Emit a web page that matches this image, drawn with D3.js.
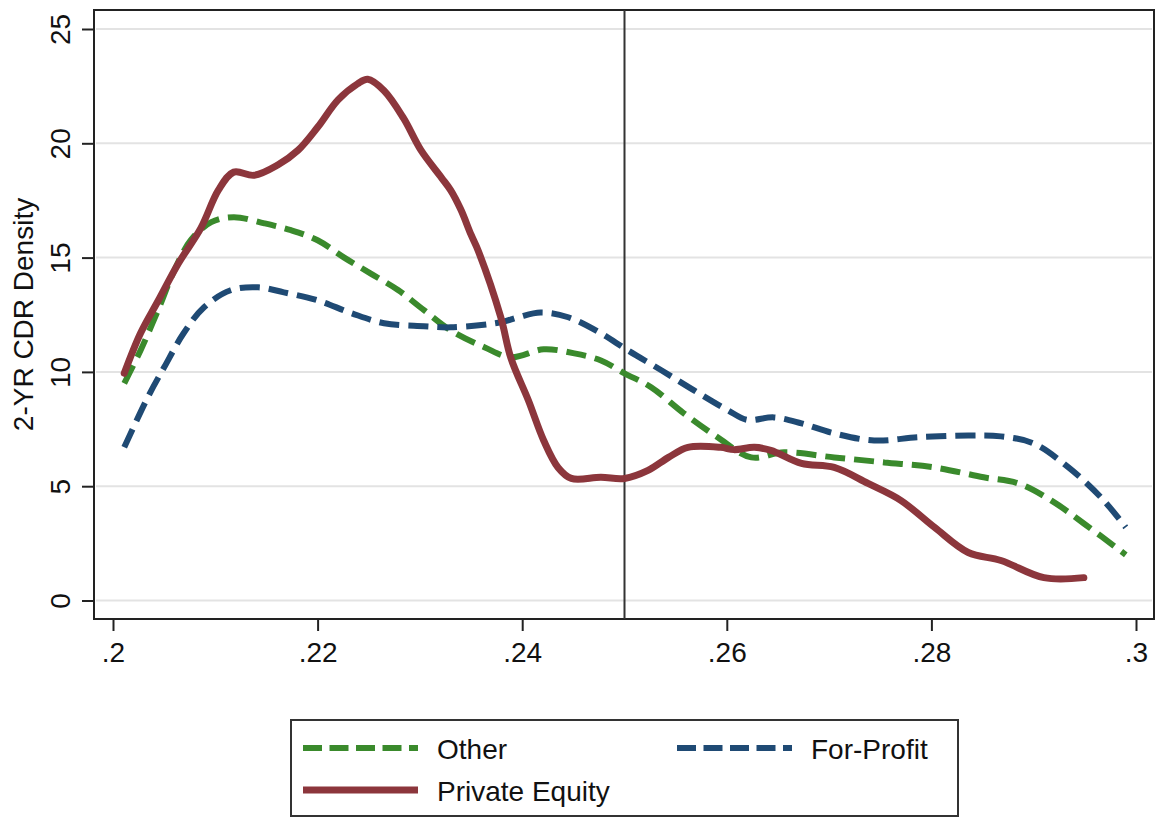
<!DOCTYPE html>
<html>
<head>
<meta charset="utf-8">
<script src="https://cdn.jsdelivr.net/npm/d3@7"></script>
<style>
  html, body { margin: 0; padding: 0; background: #fff; }
  svg { display: block; font-family: "Liberation Sans", Arial, Helvetica, sans-serif; }
</style>
</head>
<body>
<svg id="chart" width="1156" height="817"></svg>
<script>
// ---- Data ----
const xTicks = [0.2, 0.22, 0.24, 0.26, 0.28, 0.3];
const xTickLabels = [".2", ".22", ".24", ".26", ".28", ".3"];
const yTicks = [0, 5, 10, 15, 20, 25];
const yTickLabels = ["0", "5", "10", "15", "20", "25"];
const refLineX = 0.25;
const yTitle = "2-YR CDR Density";

const seriesNames = ["Other", "For-Profit", "Private Equity"];

const otherX = [0.2011,0.2027,0.2044,0.2060,0.2076,0.2096,0.2118,0.2148,0.2174,0.2200,0.2226,0.2252,0.2279,0.2304,0.2330,0.2363,0.2389,0.2421,0.2451,0.2477,0.2500,0.2526,0.2558,0.2591,0.2624,0.2656,0.2705,0.2754,0.2803,0.2851,0.2885,0.2917,0.2949,0.2990];
const otherY = [9.5,10.95,12.7,14.45,15.76,16.55,16.77,16.5,16.2,15.76,15.0,14.3,13.57,12.7,11.82,11.08,10.64,10.99,10.81,10.5,9.94,9.33,8.19,7.14,6.26,6.48,6.26,6.04,5.82,5.39,5.12,4.38,3.37,2.0];

const forProfitX = [0.2011,0.2034,0.2050,0.2069,0.2089,0.2115,0.2142,0.2167,0.2200,0.2233,0.2265,0.2304,0.2330,0.2379,0.2396,0.2418,0.2445,0.2477,0.2503,0.2536,0.2568,0.2601,0.2620,0.2646,0.2673,0.2705,0.2744,0.2787,0.2836,0.2868,0.2900,0.2934,0.2966,0.2990];
const forProfitY = [6.7,8.89,10.2,11.69,12.83,13.57,13.7,13.48,13.13,12.57,12.13,12.0,11.95,12.17,12.39,12.6,12.39,11.69,10.95,10.07,9.19,8.32,7.9,8.01,7.75,7.31,7.0,7.14,7.22,7.18,6.87,5.82,4.5,3.2];

const privateEquityX = [0.2011,0.2027,0.2044,0.2064,0.2086,0.2103,0.2118,0.2138,0.2161,0.2181,0.2200,0.2220,0.2239,0.2249,0.2265,0.2284,0.2301,0.2321,0.2330,0.2340,0.2350,0.2357,0.2379,0.2389,0.2406,0.2421,0.2435,0.2448,0.2477,0.2500,0.2523,0.2543,0.2562,0.2594,0.2607,0.2627,0.2643,0.2673,0.2705,0.2738,0.2770,0.2803,0.2836,0.2868,0.2910,0.2949];
const privateEquityY = [9.94,11.7,13.1,14.75,16.3,17.95,18.74,18.6,19.05,19.7,20.7,21.9,22.6,22.8,22.3,21.1,19.7,18.5,17.95,17.1,16.0,15.3,12.4,10.6,8.76,7.0,5.82,5.34,5.39,5.34,5.69,6.26,6.70,6.70,6.6,6.70,6.57,6.0,5.82,5.12,4.38,3.2,2.1,1.75,1.0,1.0];

// ---- Styles ----
const colors = { "Other": "#3a8a2c", "For-Profit": "#1f4a74", "Private Equity": "#8c363c" };
const dashes = { "Other": "20,9", "For-Profit": "20,9", "Private Equity": null };
const widths = { "Other": 6, "For-Profit": 6, "Private Equity": 7 };

const svg = d3.select("#chart");
const frame = { left: 94, top: 10, right: 1154, bottom: 619 };

const x = d3.scaleLinear().domain([0.2, 0.3]).range([113, 1136]);
const y = d3.scaleLinear().domain([0, 25]).range([600.5, 29]);

// gridlines
svg.append("g").selectAll("line").data(yTicks).join("line")
  .attr("x1", frame.left + 2).attr("x2", frame.right - 2)
  .attr("y1", d => y(d)).attr("y2", d => y(d))
  .attr("stroke", "#e3e3e3").attr("stroke-width", 2);

// frame
svg.append("rect")
  .attr("x", frame.left).attr("y", frame.top)
  .attr("width", frame.right - frame.left).attr("height", frame.bottom - frame.top)
  .attr("fill", "none").attr("stroke", "#222").attr("stroke-width", 2);

// Y axis
const yAxis = d3.axisLeft(y).tickValues(yTicks).tickSize(12).tickPadding(0)
  .tickFormat((d, i) => yTickLabels[i]);
const gy = svg.append("g").attr("transform", `translate(${frame.left},0)`).call(yAxis);
gy.select(".domain").remove();
gy.selectAll(".tick line").attr("stroke", "#222").attr("stroke-width", 2);
gy.selectAll(".tick text")
  .attr("font-size", 28).attr("fill", "#111")
  .attr("text-anchor", "middle")
  .attr("x", null).attr("dy", null)
  .attr("transform", "translate(-24,0) rotate(-90)")
  .attr("y", 0);

// X axis
const xAxis = d3.axisBottom(x).tickValues(xTicks).tickSize(12).tickPadding(0)
  .tickFormat((d, i) => xTickLabels[i]);
const gx = svg.append("g").attr("transform", `translate(0,${frame.bottom})`).call(xAxis);
gx.select(".domain").remove();
gx.selectAll(".tick line").attr("stroke", "#222").attr("stroke-width", 2);
gx.selectAll(".tick text")
  .attr("font-size", 28).attr("fill", "#111")
  .attr("dy", null).attr("y", 43);

// Y title
svg.append("text")
  .attr("transform", `translate(33,${(frame.top + frame.bottom) / 2}) rotate(-90)`)
  .attr("text-anchor", "middle")
  .attr("font-size", 28).attr("fill", "#111")
  .text(yTitle);

// reference line
svg.append("line")
  .attr("x1", x(refLineX)).attr("x2", x(refLineX))
  .attr("y1", frame.top).attr("y2", frame.bottom)
  .attr("stroke", "#333").attr("stroke-width", 2);

// series
const seriesData = {
  "Other": otherX.map((v, i) => [v, otherY[i]]),
  "For-Profit": forProfitX.map((v, i) => [v, forProfitY[i]]),
  "Private Equity": privateEquityX.map((v, i) => [v, privateEquityY[i]])
};
const line = d3.line().x(d => x(d[0])).y(d => y(d[1])).curve(d3.curveCatmullRom.alpha(0.5));

["Other", "For-Profit", "Private Equity"].forEach(name => {
  svg.append("path")
    .attr("d", line(seriesData[name]))
    .attr("fill", "none")
    .attr("stroke", colors[name])
    .attr("stroke-width", widths[name])
    .attr("stroke-dasharray", dashes[name])
    .attr("stroke-linejoin", "round")
    .attr("stroke-linecap", dashes[name] ? "butt" : "round");
});

// legend
const lg = svg.append("g");
lg.append("rect").attr("x", 291).attr("y", 720).attr("width", 667).attr("height", 96)
  .attr("fill", "#fff").attr("stroke", "#333").attr("stroke-width", 2);
const legendItems = [
  { name: "Other", lx: 303, ly: 748 },
  { name: "For-Profit", lx: 677, ly: 748 },
  { name: "Private Equity", lx: 303, ly: 790 }
];
legendItems.forEach(it => {
  lg.append("line")
    .attr("x1", it.lx).attr("x2", it.lx + 115)
    .attr("y1", it.ly).attr("y2", it.ly)
    .attr("stroke", colors[it.name])
    .attr("stroke-width", widths[it.name])
    .attr("stroke-dasharray", dashes[it.name] ? "19,7.5" : null);
  lg.append("text")
    .attr("x", it.lx + 134).attr("y", it.ly + 11)
    .attr("font-size", 28).attr("fill", "#111")
    .text(it.name);
});
</script>
</body>
</html>
